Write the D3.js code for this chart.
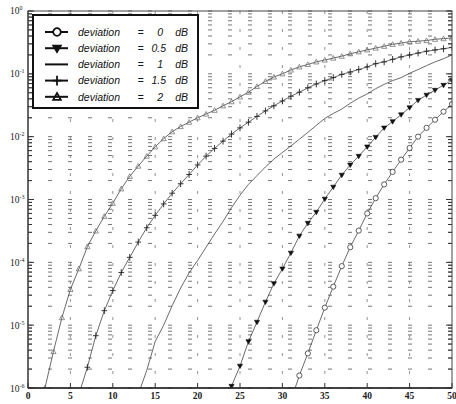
<!DOCTYPE html>
<html>
<head>
<meta charset="utf-8">
<script src="https://cdn.jsdelivr.net/npm/d3@7"></script>
<style>
  body { margin: 0; background: #fff; }
</style>
</head>
<body>
<svg id="chart" width="456" height="404"></svg>
<script>
// axis ticks
const xTicks = [0, 5, 10, 15, 20, 25, 30, 35, 40, 45, 50];
const yTicks = [1, 1e-1, 1e-2, 1e-3, 1e-4, 1e-5, 1e-6];
const yTickExps = ['0', '-1', '-2', '-3', '-4', '-5', '-6'];

// legend entries
const devLabels = ['0', '0.5', '1', '1.5', '2'];

// deviation = 0 dB (circles)
const snrDev0 = [31, 32, 33, 34, 35, 36, 37, 38, 39, 40, 41, 42, 43, 44, 45, 46, 47, 48, 49, 50];
const berDev0 = [6.3e-7, 1.58e-6, 3.55e-6, 8.3e-6, 1.9e-5, 4.1e-5, 8.7e-5, 1.74e-4, 3.2e-4, 6.0e-4,
  1.05e-3, 1.74e-3, 2.75e-3, 4.3e-3, 6.6e-3, 1.0e-2, 1.38e-2, 1.86e-2, 2.5e-2, 3.3e-2];

// deviation = 0.5 dB (filled triangles)
const snrDev05 = [23, 24, 25, 26, 27, 28, 29, 30, 31, 32, 33, 34, 35, 36, 37, 38, 39, 40, 41, 42,
  43, 44, 45, 46, 47, 48, 49, 50];
const berDev05 = [5.0e-7, 1.07e-6, 2.24e-6, 5.5e-6, 1.12e-5, 2.34e-5, 4.6e-5, 7.9e-5, 1.41e-4, 2.63e-4,
  4.2e-4, 6.3e-4, 1.02e-3, 1.58e-3, 2.45e-3, 3.55e-3, 4.9e-3, 6.9e-3, 9.8e-3, 1.38e-2,
  1.74e-2, 2.24e-2, 2.9e-2, 3.8e-2, 4.6e-2, 5.5e-2, 6.6e-2, 7.9e-2];

// deviation = 1 dB (plain line)
const snrDev1 = [13, 14, 15, 16, 17, 18, 19, 20, 21, 22, 23, 24, 25, 26, 27, 28, 29, 30, 31, 32,
  33, 34, 35, 36, 37, 38, 39, 40, 41, 42, 43, 44, 45, 46, 47, 48, 49, 50];
const berDev1 = [7.9e-7, 1.9e-6, 5.5e-6, 1.0e-5, 2.04e-5, 3.9e-5, 6.8e-5, 1.07e-4, 1.74e-4, 2.82e-4,
  4.47e-4, 7.4e-4, 1.17e-3, 1.74e-3, 2.4e-3, 3.3e-3, 4.4e-3, 5.6e-3, 7.1e-3, 9.1e-3,
  1.17e-2, 1.51e-2, 1.95e-2, 2.34e-2, 2.75e-2, 3.4e-2, 4.1e-2, 4.8e-2, 5.8e-2, 6.8e-2,
  7.8e-2, 8.7e-2, 0.102, 0.117, 0.135, 0.155, 0.174, 0.200];

// deviation = 1.5 dB (plus)
const snrDev15 = [6, 7, 8, 9, 10, 11, 12, 13, 14, 15, 16, 17, 18, 19, 20, 21, 22, 23, 24, 25, 26, 27,
  28, 29, 30, 31, 32, 33, 34, 35, 36, 37, 38, 39, 40, 41, 42, 43, 44, 45, 46, 47, 48, 49, 50];
const berDev15 = [7.9e-7, 2.14e-6, 6.8e-6, 1.7e-5, 3.55e-5, 6.9e-5, 1.2e-4, 2.1e-4, 3.55e-4, 5.6e-4,
  8.5e-4, 1.26e-3, 1.78e-3, 2.5e-3, 3.55e-3, 4.9e-3, 6.5e-3, 8.5e-3, 1.1e-2, 1.38e-2,
  1.7e-2, 2.1e-2, 2.57e-2, 3.1e-2, 3.7e-2, 4.4e-2, 5.1e-2, 6.0e-2, 6.9e-2, 7.8e-2,
  8.7e-2, 9.8e-2, 0.107, 0.117, 0.129, 0.145, 0.155, 0.170, 0.186, 0.200,
  0.214, 0.229, 0.240, 0.251, 0.263];

// deviation = 2 dB (open triangles)
const snrDev2 = [2, 3, 4, 5, 6, 7, 8, 9, 10, 11, 12, 13, 14, 15, 16, 17, 18, 19, 20, 21, 22, 23, 24, 25,
  26, 27, 28, 29, 30, 31, 32, 33, 34, 35, 36, 37, 38, 39, 40, 41, 42, 43, 44, 45, 46, 47, 48, 49, 50];
const berDev2 = [1.0e-6, 3.8e-6, 1.32e-5, 3.7e-5, 7.9e-5, 1.78e-4, 3.16e-4, 5.4e-4, 8.7e-4, 1.48e-3,
  2.34e-3, 3.4e-3, 4.9e-3, 6.9e-3, 9.3e-3, 1.2e-2, 1.45e-2, 1.7e-2, 2.0e-2, 2.29e-2,
  2.63e-2, 3.1e-2, 3.6e-2, 4.3e-2, 5.1e-2, 6.3e-2, 7.6e-2, 8.9e-2, 0.100, 0.115,
  0.129, 0.141, 0.155, 0.166, 0.178, 0.191, 0.209, 0.224, 0.240, 0.257,
  0.275, 0.295, 0.309, 0.324, 0.331, 0.339, 0.355, 0.363, 0.372];

const series = [
  { snr: snrDev0, ber: berDev0, marker: 'circle' },
  { snr: snrDev05, ber: berDev05, marker: 'tridown' },
  { snr: snrDev1, ber: berDev1, marker: 'none' },
  { snr: snrDev15, ber: berDev15, marker: 'plus' },
  { snr: snrDev2, ber: berDev2, marker: 'triup' }
];

const plotLeft = 28, plotRight = 452, plotTop = 11, plotBottom = 388;

const x = d3.scaleLinear().domain([0, 50]).range([plotLeft, plotRight]);
const y = d3.scaleLog().domain([1e-6, 1]).range([plotBottom, plotTop]);

const svg = d3.select('#chart');
svg.append('rect').attr('width', 456).attr('height', 404).attr('fill', '#fff');

svg.append('clipPath').attr('id', 'plotClip')
  .append('rect')
  .attr('x', plotLeft).attr('y', plotTop)
  .attr('width', plotRight - plotLeft).attr('height', plotBottom - plotTop);

function drawMarkers(g, points, type, r) {
  if (type === 'none') return;
  const sel = g.selectAll('path.m')
    .data(points)
    .enter()
    .append('path')
    .attr('class', 'm')
    .attr('transform', d => `translate(${d[0]},${d[1]})`);
  if (type === 'circle') {
    sel.attr('d', d3.symbol().type(d3.symbolCircle).size(Math.PI * r * r))
      .attr('fill', '#fff').attr('stroke', '#333').attr('stroke-width', 0.8);
  } else if (type === 'tridown') {
    sel.attr('d', `M${-r},${-r * 0.7}L${r},${-r * 0.7}L0,${r}Z`)
      .attr('fill', '#111').attr('stroke', '#111').attr('stroke-width', 0.6);
  } else if (type === 'plus') {
    sel.attr('d', `M${-r * 1.1},0H${r * 1.1}M0,${-r * 1.3}V${r * 1.3}`)
      .attr('fill', 'none').attr('stroke', '#222').attr('stroke-width', 0.9);
  } else if (type === 'triup') {
    sel.attr('d', `M0,${-r}L${r},${r * 0.8}L${-r},${r * 0.8}Z`)
      .attr('fill', 'none').attr('stroke', '#666').attr('stroke-width', 0.7);
  }
}

// grid: horizontal dotted lines at every log tick, vertical at x ticks
const minorY = y.ticks();
svg.append('g')
  .selectAll('line')
  .data(minorY)
  .enter()
  .append('line')
  .attr('x1', plotLeft).attr('x2', plotRight)
  .attr('y1', d => y(d)).attr('y2', d => y(d))
  .attr('stroke', '#666')
  .attr('stroke-width', 0.9)
  .attr('stroke-dasharray', '4,16');

svg.append('g')
  .selectAll('line')
  .data(xTicks.slice(1, -1))
  .enter()
  .append('line')
  .attr('x1', d => x(d)).attr('x2', d => x(d))
  .attr('y1', plotTop).attr('y2', plotBottom)
  .attr('stroke', '#777')
  .attr('stroke-width', 0.8)
  .attr('stroke-dasharray', '3,15');

// curves
const line = d3.line()
  .x(d => x(d[0]))
  .y(d => y(d[1]));

const curves = svg.append('g').attr('clip-path', 'url(#plotClip)');

series.forEach(s => {
  const pts = s.snr.map((v, i) => [v, s.ber[i]]);
  curves.append('path')
    .datum(pts)
    .attr('d', line)
    .attr('fill', 'none')
    .attr('stroke', '#444')
    .attr('stroke-width', 0.8);

  const visible = pts.filter(p => p[1] >= 1e-6);
  const g = curves.append('g');
  drawMarkers(g, visible.map(p => [x(p[0]), y(p[1])]), s.marker, 2.6);
});

// axes box
svg.append('rect')
  .attr('x', plotLeft).attr('y', plotTop)
  .attr('width', plotRight - plotLeft).attr('height', plotBottom - plotTop)
  .attr('fill', 'none')
  .attr('stroke', '#444')
  .attr('stroke-width', 1);
svg.append('line')
  .attr('x1', plotLeft).attr('x2', plotLeft).attr('y1', plotTop).attr('y2', plotBottom)
  .attr('stroke', '#666').attr('stroke-width', 2);
svg.append('line')
  .attr('x1', plotLeft).attr('x2', plotRight).attr('y1', plotBottom).attr('y2', plotBottom)
  .attr('stroke', '#222').attr('stroke-width', 1.6);

// tick marks (inside, both sides)
const tickG = svg.append('g').attr('stroke', '#333').attr('stroke-width', 1);
tickG.selectAll('line.yl')
  .data(minorY)
  .enter()
  .append('line')
  .attr('class', 'yl')
  .attr('x1', plotLeft).attr('x2', d => plotLeft + (yTicks.includes(d) ? 6 : 4))
  .attr('y1', d => y(d)).attr('y2', d => y(d));
tickG.selectAll('line.yr')
  .data(minorY)
  .enter()
  .append('line')
  .attr('class', 'yr')
  .attr('x1', plotRight).attr('x2', d => plotRight - (yTicks.includes(d) ? 6 : 4))
  .attr('y1', d => y(d)).attr('y2', d => y(d));
tickG.selectAll('line.xb')
  .data(xTicks)
  .enter()
  .append('line')
  .attr('class', 'xb')
  .attr('x1', d => x(d)).attr('x2', d => x(d))
  .attr('y1', plotBottom).attr('y2', plotBottom - 5);

// x tick labels
svg.append('g')
  .selectAll('text')
  .data(xTicks)
  .enter()
  .append('text')
  .attr('x', d => x(d))
  .attr('y', 399)
  .attr('text-anchor', 'middle')
  .attr('font-family', 'Liberation Serif, serif')
  .attr('font-size', 9.5)
  .attr('font-weight', 'bold')
  .attr('fill', '#222')
  .text(d => d);

// y tick labels: 10 with superscript exponent
const yLab = svg.append('g')
  .attr('font-family', 'Liberation Serif, serif')
  .attr('fill', '#222');
yTicks.forEach((v, i) => {
  const t = yLab.append('text')
    .attr('x', 10)
    .attr('y', y(v) + (i === 0 ? 3 : 3.5));
  t.append('tspan').attr('font-size', 9.5).text('10');
  t.append('tspan').attr('font-size', 6).attr('dy', -4).text(yTickExps[i]);
});

// legend
const legX = 33, legY = 15, legW = 165, legH = 93;
const legend = svg.append('g');
legend.append('rect')
  .attr('x', legX).attr('y', legY)
  .attr('width', legW).attr('height', legH)
  .attr('fill', '#fff')
  .attr('stroke', '#111')
  .attr('stroke-width', 2);

devLabels.forEach((lab, i) => {
  const cy = 32 + i * 16.2;
  legend.append('line')
    .attr('x1', 45).attr('x2', 68)
    .attr('y1', cy).attr('y2', cy)
    .attr('stroke', '#111').attr('stroke-width', 2);
  const mg = legend.append('g');
  drawMarkers(mg, [[57, cy]], series[i].marker, 3.8);
  mg.selectAll('path').attr('stroke', '#111').attr('stroke-width', 1.8);

  const txt = legend.append('g')
    .attr('font-family', 'Liberation Sans, Arial, sans-serif')
    .attr('font-style', 'italic')
    .attr('font-size', 10.5)
    .attr('fill', '#111');
  txt.append('text')
    .attr('x', 78).attr('y', cy + 3.8)
    .text('deviation');
  txt.append('text')
    .attr('x', 140.5).attr('y', cy + 3.8)
    .attr('text-anchor', 'middle')
    .text('=');
  txt.append('text')
    .attr('x', lab.includes('.') ? 166 : 163).attr('y', cy + 3.8)
    .attr('text-anchor', 'end')
    .text(lab);
  txt.append('text')
    .attr('x', 188).attr('y', cy + 3.8)
    .attr('text-anchor', 'end')
    .text('dB');
});
</script>
</body>
</html>
